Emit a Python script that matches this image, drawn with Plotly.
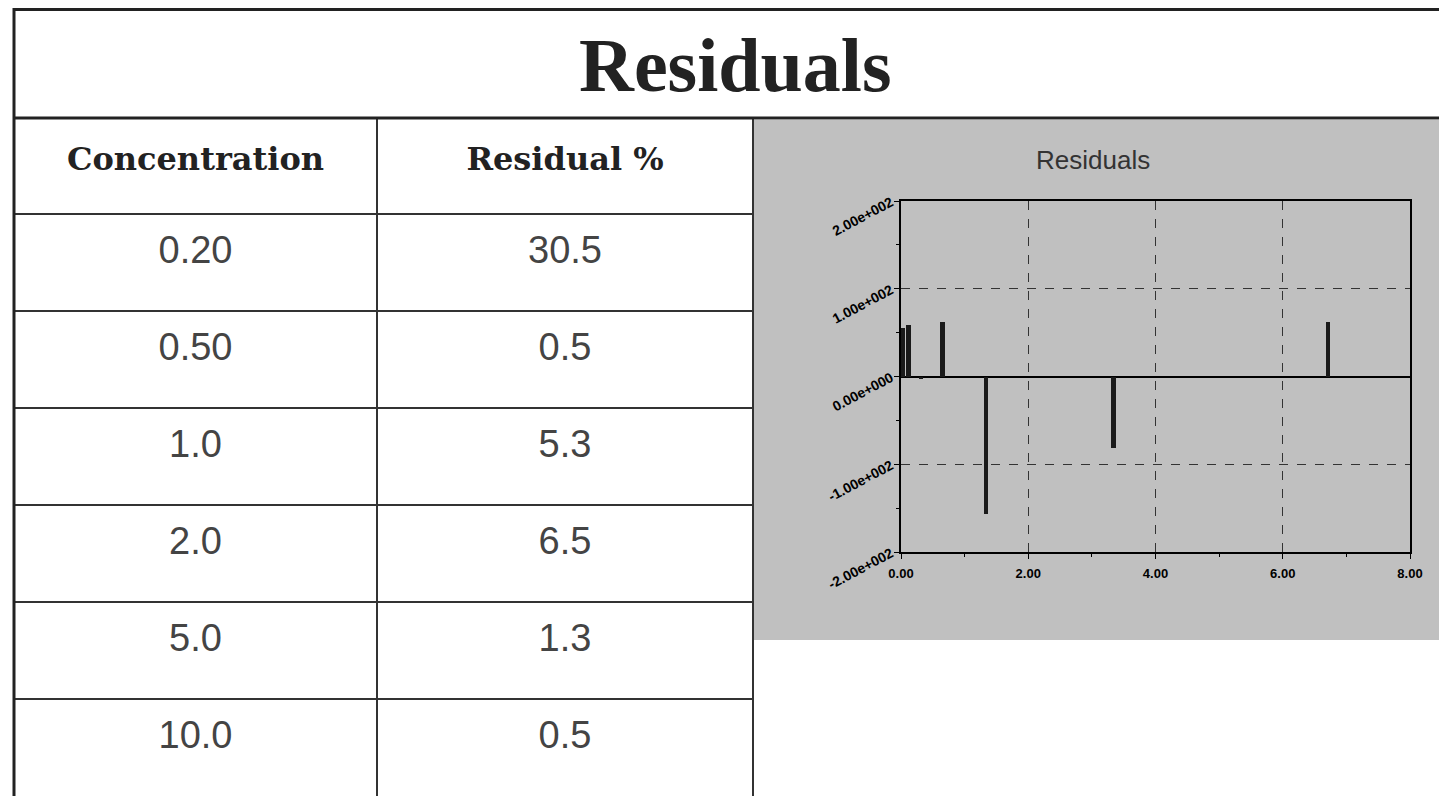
import plotly.graph_objects as go

W, H = 1447, 796

# ---- data ----
title_text = "Residuals"
col_headers = ["Concentration", "Residual %"]
concentrations = ["0.20", "0.50", "1.0", "2.0", "5.0", "10.0"]
residual_pct = ["30.5", "0.5", "5.3", "6.5", "1.3", "0.5"]

chart_title = "Residuals"
res_x = [0.03, 0.12, 0.31, 0.65, 1.34, 3.34, 6.71]
res_y = [55, 59, -3, 62, -157, -81, 62]
x_tickvals = [0, 2, 4, 6, 8]
x_ticktext = ["0.00", "2.00", "4.00", "6.00", "8.00"]
y_tickvals = [200, 100, 0, -100, -200]
y_ticktext = ["2.00e+002", "1.00e+002", "0.00e+000", "-1.00e+002", "-2.00e+002"]

# ---- layout geometry (pixels, as seen on the page) ----
OFF = 8  # page body margin around the figure
TABLE_L, TABLE_R, COL_SPLIT = 14, 753, 377
HEAD_TOP, HEAD_H, ROW_H = 118, 96, 97
HEAD_TEXT_SHIFT, CELL_TEXT_SHIFT = 14, 12


def px(x):
    return (x - OFF) / W


def py(y):
    return 1 - (y - OFF) / H


fig = go.Figure()

# table text (lines drawn as shapes below so text can sit at the reference's baseline)
fig.add_trace(go.Table(
    domain=dict(x=[px(TABLE_L), px(TABLE_R)], y=[0, py(HEAD_TOP + HEAD_TEXT_SHIFT)]),
    columnwidth=[COL_SPLIT - TABLE_L, TABLE_R - COL_SPLIT],
    header=dict(
        values=[f"<b>{h}</b>" for h in col_headers],
        height=HEAD_H - HEAD_TEXT_SHIFT + CELL_TEXT_SHIFT,
        align="center",
        fill_color="rgba(0,0,0,0)",
        line=dict(color="rgba(0,0,0,0)", width=0),
        font=dict(family="DejaVu Serif", size=32, color="#222222"),
    ),
    cells=dict(
        values=[concentrations, residual_pct],
        height=ROW_H,
        align="center",
        fill_color="rgba(0,0,0,0)",
        line=dict(color="rgba(0,0,0,0)", width=0),
        font=dict(family="Liberation Sans", size=38, color="#444444"),
    ),
))

# residual bars
fig.add_trace(go.Bar(
    x=res_x, y=res_y, width=0.07,
    marker=dict(color="#1a1a1a", line=dict(width=0)),
    showlegend=False, hoverinfo="x+y",
))

shapes = []
# gray chart panel
shapes.append(dict(type="rect", xref="paper", yref="paper",
                   x0=px(TABLE_R), x1=px(1440), y0=py(640), y1=py(120),
                   fillcolor="#c0c0c0", line=dict(width=0), layer="below"))
# table grid lines
n_rows = len(concentrations)
for i in range(n_rows):
    yb = HEAD_TOP + HEAD_H + i * ROW_H
    shapes.append(dict(type="line", xref="paper", yref="paper",
                       x0=px(TABLE_L), x1=px(TABLE_R), y0=py(yb), y1=py(yb),
                       line=dict(color="#333333", width=2)))
for xv in (COL_SPLIT, TABLE_R):
    shapes.append(dict(type="line", xref="paper", yref="paper",
                       x0=px(xv), x1=px(xv), y0=0, y1=py(HEAD_TOP),
                       line=dict(color="#333333", width=2)))
# outer border: top, left, title underline
shapes.append(dict(type="line", xref="paper", yref="paper",
                   x0=px(13), x1=1, y0=py(9.5), y1=py(9.5),
                   line=dict(color="#222222", width=3)))
shapes.append(dict(type="line", xref="paper", yref="paper",
                   x0=px(TABLE_L), x1=px(TABLE_L), y0=0, y1=py(8),
                   line=dict(color="#222222", width=3)))
shapes.append(dict(type="line", xref="paper", yref="paper",
                   x0=px(13), x1=1, y0=py(HEAD_TOP), y1=py(HEAD_TOP),
                   line=dict(color="#222222", width=3)))

annotations = [
    dict(text=f"<b>{title_text}</b>", x=px(735), y=py(65), xref="paper", yref="paper",
         showarrow=False, xanchor="center", yanchor="middle",
         font=dict(family="Liberation Serif", size=76, color="#222222")),
    dict(text=chart_title, x=px(1093), y=py(160), xref="paper", yref="paper",
         showarrow=False, xanchor="center", yanchor="middle",
         font=dict(family="Liberation Sans", size=26, color="#333333")),
]

fig.update_layout(
    width=W, height=H,
    margin=dict(l=0, r=0, t=0, b=0, pad=0, autoexpand=False),
    paper_bgcolor="white",
    plot_bgcolor="white",
    showlegend=False,
    shapes=shapes,
    annotations=annotations,
    bargap=0,
    xaxis=dict(
        domain=[px(901), px(1410)], range=[0, 8], automargin=False,
        tickvals=x_tickvals, ticktext=x_ticktext,
        ticks="outside", ticklen=5, tickcolor="black", ticklabelstandoff=3,
        minor=dict(dtick=1, tick0=0, ticks="outside", ticklen=3, tickcolor="black", showgrid=False),
        showgrid=True, gridcolor="#333333", griddash="dash", gridwidth=1,
        showline=True, linecolor="black", linewidth=2, mirror=True,
        zeroline=False,
        tickfont=dict(family="Liberation Sans", size=13, color="black", weight="bold"),
        fixedrange=True,
    ),
    yaxis=dict(
        domain=[py(552), py(201)], range=[-200, 200], automargin=False,
        tickvals=y_tickvals, ticktext=y_ticktext, tickangle=-28,
        ticks="outside", ticklen=5, tickcolor="black",
        minor=dict(dtick=50, tick0=0, ticks="outside", ticklen=3, tickcolor="black", showgrid=False),
        showgrid=True, gridcolor="#333333", griddash="dash", gridwidth=1,
        showline=True, linecolor="black", linewidth=2, mirror=True,
        zeroline=True, zerolinecolor="black", zerolinewidth=2,
        tickfont=dict(family="Liberation Sans", size=14, color="black", weight="bold"),
        fixedrange=True,
    ),
)

fig.write_html("out.html")
